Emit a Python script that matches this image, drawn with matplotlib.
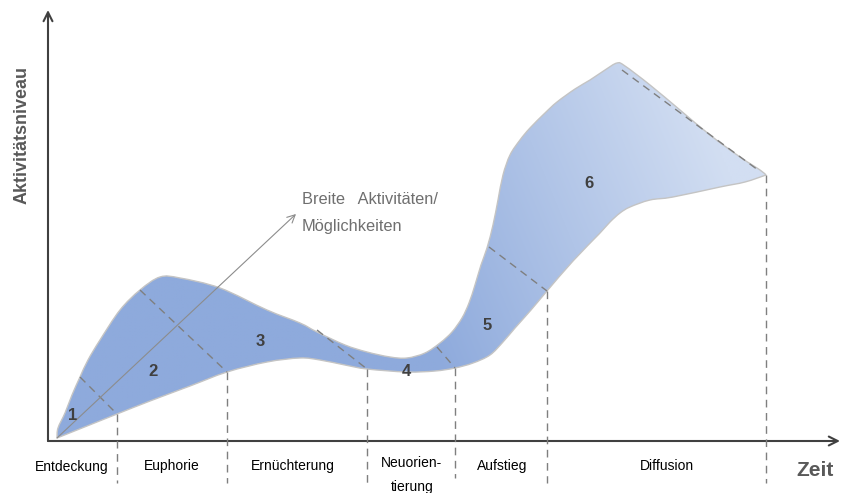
import numpy as np
import matplotlib
matplotlib.use("Agg")
import matplotlib.pyplot as plt
from matplotlib.patches import PathPatch
from matplotlib.path import Path
from matplotlib.colors import to_rgb

plt.rcParams['font.family'] = ['Liberation Sans', 'DejaVu Sans']

# Upper and lower edge of the activity band (time, activity level)
upper_t = [9, 10, 17, 24, 32, 40, 52, 72, 92, 112, 132, 172, 219, 252, 269, 297, 319,
           342, 359, 377, 392, 404, 414, 421, 427, 433, 439, 445, 450, 455, 462, 472, 482,
           497, 509, 527, 542, 557, 569, 577, 602, 632, 662, 692, 712, 718]
upper_v = [3, 13, 28, 46, 64, 81, 101, 131, 151, 164, 163, 153, 131, 118, 109, 96, 89,
           84, 83, 88, 98, 109, 123, 138, 156, 176, 193, 216, 241, 266, 286, 301, 313,
           328, 339, 352, 361, 371, 378, 375, 356, 331, 306, 284, 271, 266]
lower_t = [9, 39, 69, 102, 142, 179, 219, 252, 272, 297, 319, 359, 387, 407, 425,
           442, 455, 467, 483, 499, 525, 552, 562, 572, 582, 602, 625, 672, 697, 718]
lower_v = [3, 15, 27, 40, 55, 69, 79, 83, 81, 76, 72, 69, 70, 73, 78,
           86, 99, 113, 131, 150, 180, 208, 219, 228, 234, 241, 244, 254, 259, 266]

# Phase boundaries across the band: (upper point) -> (lower point)
cut_upper = [(32, 64), (92, 151), (269, 111), (389, 94), (441, 194), (574, 371)]
cut_lower = [(69, 27), (179, 69), (319, 72), (407, 73), (499, 150), (710, 271)]

# Vertical phase separators on the time axis
sep_t = [69, 179, 319, 407, 499, 718]
sep_top = [27, 69, 72, 73, 150, 266]
sep_bottom = [-42, -42, -42, -37, -42, -42]

phase_numbers = ['1', '2', '3', '4', '5', '6']
number_pos = [(25, 26), (105, 70), (212, 100), (358, 69), (439, 115), (541, 257)]

phase_names = ['Entdeckung', 'Euphorie', 'Ernüchterung', 'Neuorien-', 'Aufstieg', 'Diffusion']
phase_name_pos = [(24, -26), (124, -25), (245, -25), (364, -22), (454, -25), (619, -25)]

breadth_start = (9, 3)
breadth_end = (248, 227)


def smooth_segments(xs, ys):
    """Cubic Bezier pieces (Catmull-Rom style) passing through every point."""
    p = np.column_stack([xs, ys]).astype(float)
    n = len(p)
    verts = []
    for i in range(n - 1):
        p0 = p[i - 1] if i > 0 else p[i]
        p1, p2 = p[i], p[i + 1]
        p3 = p[i + 2] if i + 2 < n else p[i + 1]
        c1 = p1 + (p2 - p0) / 6.0
        c2 = p2 - (p3 - p1) / 6.0
        verts.extend([c1, c2, p2])
    return verts


up_verts = smooth_segments(upper_t, upper_v)
lo_verts = smooth_segments(lower_t[::-1], lower_v[::-1])
verts = [(upper_t[0], upper_v[0])] + up_verts + lo_verts + [(upper_t[0], upper_v[0])]
codes = ([Path.MOVETO] + [Path.CURVE4] * len(up_verts)
         + [Path.CURVE4] * len(lo_verts) + [Path.CLOSEPOLY])
band_path = Path(verts, codes)

fig = plt.figure(figsize=(8.43, 4.93), dpi=100)
ax = fig.add_axes([48 / 843, 52 / 493, 790 / 843, 431 / 493])
ax.set_xlim(0, 790)
ax.set_ylim(0, 431)
ax.axis('off')

# Band outline
ax.add_patch(PathPatch(band_path, facecolor='none', edgecolor='#c4c4c4',
                       lw=1.0, zorder=3))

# Gradient fill clipped to the band
c0 = np.array(to_rgb('#8eaadc'))
c1 = np.array(to_rgb('#d2def2'))
gx = np.linspace(0, 790, 400)
gy = np.linspace(0, 431, 220)
GX, GY = np.meshgrid(gx, gy)
tt = np.clip((GX - 360) / 370 + (GY - 150) / 900, 0, 1)
img = c0[None, None, :] * (1 - tt[..., None]) + c1[None, None, :] * tt[..., None]
im = ax.imshow(img, extent=(0, 790, 0, 431), origin='lower', aspect='auto',
               zorder=2, interpolation='bilinear')
clip_patch = PathPatch(band_path, transform=ax.transData)
im.set_clip_path(clip_patch)

dash_kw = dict(color='#7f7f7f', lw=1.0, dashes=(5.5, 4), zorder=4)
for (ux, uy), (lx, ly) in zip(cut_upper, cut_lower):
    ax.plot([ux, lx], [uy, ly], **dash_kw)
for x, top, bot in zip(sep_t, sep_top, sep_bottom):
    ax.plot([x, x], [top, bot], clip_on=False, **dash_kw)

# Breadth arrow
ax.annotate('', xy=breadth_end, xytext=breadth_start,
            arrowprops=dict(arrowstyle='->', color='#8c8c8c', lw=0.8,
                            mutation_scale=14, shrinkA=0, shrinkB=0),
            zorder=5)
ax.text(254, 241, 'Breite   Aktivitäten/', fontsize=11.8, color='#6f6f6f',
        ha='left', va='center')
ax.text(254, 215, 'Möglichkeiten', fontsize=11.8, color='#6f6f6f',
        ha='left', va='center')

# Axes with arrow heads
axis_kw = dict(arrowstyle='->', color='#404040', lw=1.5, mutation_scale=16,
               shrinkA=0, shrinkB=0)
ax.annotate('', xy=(0, 431), xytext=(0, 0), arrowprops=axis_kw,
            annotation_clip=False)
ax.annotate('', xy=(792, 0), xytext=(0, 0), arrowprops=axis_kw,
            annotation_clip=False)

for s, (x, y) in zip(phase_numbers, number_pos):
    ax.text(x, y, s, fontsize=12, fontweight='bold', color='#404040',
            ha='center', va='center', zorder=6)

for s, (x, y) in zip(phase_names, phase_name_pos):
    ax.text(x, y, s, fontsize=10, color='#000000', ha='center', va='center',
            clip_on=False)
ax.text(364, -46, 'tierung', fontsize=10, color='#000000', ha='center',
        va='center', clip_on=False)

ax.text(767, -29, 'Zeit', fontsize=15, fontweight='bold', color='#595959',
        ha='center', va='center', clip_on=False)
ax.text(-26, 306, 'Aktivitätsniveau', fontsize=13, fontweight='bold',
        color='#595959', ha='center', va='center', rotation=90, clip_on=False)

fig.savefig('out.png', dpi=100)
